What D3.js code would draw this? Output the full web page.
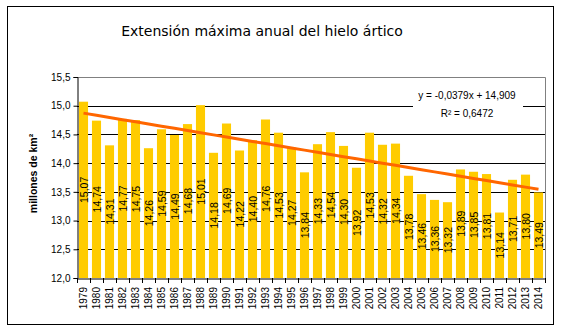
<!DOCTYPE html>
<html><head><meta charset="utf-8">
<script src="https://cdn.jsdelivr.net/npm/d3@7"></script>
<style>body{margin:0;background:#fff}svg{display:block}</style>
</head><body>
<script>
const years = ["1979","1980","1981","1982","1983","1984","1985","1986","1987","1988","1989","1990","1991","1992","1993","1994","1995","1996","1997","1998","1999","2000","2001","2002","2003","2004","2005","2006","2007","2008","2009","2010","2011","2012","2013","2014"];
const values = [15.07,14.74,14.31,14.77,14.75,14.26,14.59,14.49,14.68,15.01,14.18,14.69,14.22,14.40,14.76,14.53,14.27,13.84,14.33,14.54,14.30,13.92,14.53,14.32,14.34,13.78,13.46,13.36,13.32,13.89,13.85,13.81,13.14,13.71,13.80,13.49];
const yTicks = [12.0,12.5,13.0,13.5,14.0,14.5,15.0,15.5];
const trendSlope = -0.0379, trendIntercept = 14.909;
const title = "Extensión máxima anual del hielo ártico";
const eqText = "y = -0,0379x + 14,909";
const r2Text = "R² = 0,6472";

const W=561,H=330;
const m={left:77,right:545,top:77,bottom:278};
const fmt = v => v.toFixed(2).replace(".", ",");
const fmt1 = v => v.toFixed(1).replace(".", ",");

const svg=d3.select("body").append("svg").attr("width",W).attr("height",H);
svg.append("rect").attr("x",7.5).attr("y",6.5).attr("width",546).attr("height",318).attr("fill","#fff").attr("stroke","#000");

const x=d3.scaleBand().domain(years).range([m.left,m.right]).paddingInner(0.3).paddingOuter(0.15);
const xb=d3.scaleBand().domain(years).range([m.left,m.right]);
const y=d3.scaleLinear().domain([12,15.5]).range([m.bottom,m.top]);

// gridlines
svg.append("g").selectAll("line").data(yTicks.filter(t=>t>12&&t<15.5)).join("line")
  .attr("x1",m.left).attr("x2",m.right).attr("y1",d=>Math.round(y(d))+0.5).attr("y2",d=>Math.round(y(d))+0.5)
  .attr("stroke","#000");
// plot border top/right grey
svg.append("path").attr("d",`M${m.left},${m.top+0.5}H${m.right+0.5}V${m.bottom}`).attr("fill","none").attr("stroke","#808080");

// bars
svg.append("g").selectAll("rect").data(values).join("rect")
  .attr("x",(d,i)=>x(years[i])).attr("width",x.bandwidth())
  .attr("y",d=>y(d)).attr("height",d=>y(12)-y(d)).attr("fill","#FFCC00");

// trend line
const line=d3.line().x((d,i)=>xb(years[i])+xb.bandwidth()/2).y(d=>y(d));
const trend=years.map((yr,i)=>trendIntercept+trendSlope*(i+1));
svg.append("path").datum(trend).attr("d",line).attr("fill","none").attr("stroke","#FF6600").attr("stroke-width",3);

// bar labels
svg.append("g").selectAll("text").data(values).join("text")
  .attr("transform",(d,i)=>`translate(${xb(years[i])+xb.bandwidth()/2+0.5},${(y(d)+y(12))/2}) rotate(-90)`)
  .attr("text-anchor","middle").attr("dy","0.35em")
  .style("font-family","Liberation Sans, Arial, sans-serif").style("font-size","10.5px").attr("fill","#000")
  .text(d=>fmt(d));

// axes
const yAxis=d3.axisLeft(y).tickValues(yTicks).tickSize(4).tickFormat(fmt1);
const gy=svg.append("g").attr("transform",`translate(${m.left+0.5},0)`).call(yAxis);
gy.select(".domain").attr("stroke","#000");
gy.selectAll("text").style("font-family","Liberation Sans, Arial, sans-serif").style("font-size","10px").attr("x",-7);

const xAxis=d3.axisBottom(xb).tickSize(0).tickFormat("");
const gx=svg.append("g").attr("transform",`translate(0,${m.bottom+0.5})`).call(xAxis);
gx.select(".domain").attr("stroke","#000");
// ticks between bands
const bounds=years.map(yr=>xb(yr)).concat([m.right]);
svg.append("g").selectAll("line").data(bounds).join("line")
  .attr("x1",d=>Math.round(d)+0.5).attr("x2",d=>Math.round(d)+0.5).attr("y1",m.bottom).attr("y2",m.bottom+5).attr("stroke","#000");
svg.append("g").selectAll("text").data(years).join("text")
  .attr("transform",d=>`translate(${xb(d)+xb.bandwidth()/2},${m.bottom+9}) rotate(-90)`)
  .attr("text-anchor","end").attr("dy","0.35em")
  .style("font-family","Liberation Sans, Arial, sans-serif").style("font-size","10px").text(d=>d);

// equation label
svg.append("rect").attr("x",413).attr("y",86).attr("width",110).attr("height",40).attr("fill","#fff");
svg.append("text").attr("x",467).attr("y",99).attr("text-anchor","middle")
  .style("font-family","Liberation Sans, Arial, sans-serif").style("font-size","10px").text(eqText);
svg.append("text").attr("x",467).attr("y",117).attr("text-anchor","middle")
  .style("font-family","Liberation Sans, Arial, sans-serif").style("font-size","10px").text(r2Text);

// title
svg.append("text").attr("x",262).attr("y",36).attr("text-anchor","middle")
  .style("font-family","DejaVu Sans, sans-serif").style("font-size","14px").text(title);

// y label
svg.append("text").attr("transform",`translate(37,${(m.top+m.bottom)/2-4}) rotate(-90)`).attr("text-anchor","middle")
  .style("font-family","Liberation Sans, Arial, sans-serif").style("font-size","10.5px").style("font-weight","bold")
  .text("millones de km²");
</script>
</body></html>
